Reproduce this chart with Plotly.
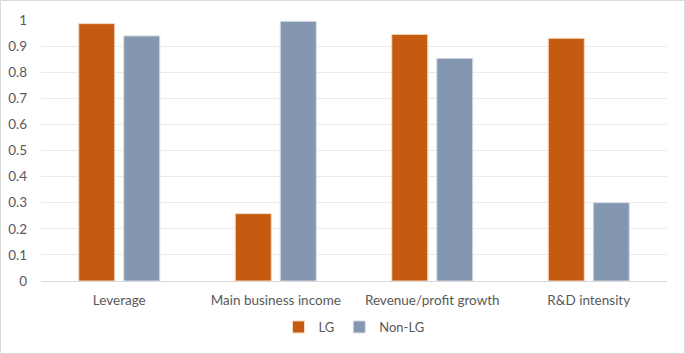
import plotly.graph_objects as go

categories = ["Leverage", "Main business income", "Revenue/profit growth", "R&D intensity"]
lg_values = [0.986, 0.258, 0.945, 0.930]
nonlg_values = [0.939, 0.995, 0.853, 0.300]
tick_vals = [0, 0.1, 0.2, 0.3, 0.4, 0.5, 0.6, 0.7, 0.8, 0.9, 1.0]
tick_text = ["0", "0.1", "0.2", "0.3", "0.4", "0.5", "0.6", "0.7", "0.8", "0.9", "1"]

W, H = 685, 354
ml, mr, mt, mb = 41, 18, 20, 73
pw, ph = W - ml - mr, H - mt - mb

fig = go.Figure()
fig.add_trace(go.Bar(name="LG", x=categories, y=lg_values,
                     marker=dict(color="#C55A11", line=dict(color="#F4D9C0", width=1))))
fig.add_trace(go.Bar(name="Non-LG", x=categories, y=nonlg_values,
                     marker=dict(color="#8497B0", line=dict(color="#D6DCE5", width=1))))

fig.update_layout(
    width=W, height=H,
    margin=dict(l=ml, r=mr, t=mt, b=mb, autoexpand=False),
    paper_bgcolor="white", plot_bgcolor="white",
    barmode="group", bargap=0.425, bargroupgap=0.2,
    font=dict(family="Lato, Open Sans, sans-serif", size=13, color="#595959"),
    showlegend=True,
    legend=dict(orientation="h", x=0.5, xanchor="center", y=(mt + ph - 327) / ph, yanchor="middle",
                font=dict(size=13, color="#595959"), itemwidth=30, traceorder="normal",
                tracegroupgap=0),
    xaxis=dict(showgrid=False, showline=False, ticks="", ticklabelstandoff=9,
               tickfont=dict(size=13.5, color="#595959")),
    yaxis=dict(range=[0, 1.0], tickvals=tick_vals, ticktext=tick_text, showgrid=True,
               gridcolor="#EBEBEB", gridwidth=1, zeroline=True, zerolinecolor="#D9D9D9",
               zerolinewidth=1, showline=False, ticks="", ticklabelstandoff=13,
               tickfont=dict(size=13.5, color="#595959")),
)

# outer chart border
fig.add_shape(type="rect", xref="paper", yref="paper",
              x0=(0.5 - ml) / pw, x1=(W - 0.5 - ml) / pw,
              y0=(mt + ph - (H - 0.5)) / ph, y1=(mt + ph - 0.5) / ph,
              line=dict(color="#D9D9D9", width=1), fillcolor="rgba(0,0,0,0)", layer="below")

fig.write_html("out.html", config={"displayModeBar": False},
               post_script="document.body.style.margin='0';document.body.style.overflow='hidden';")
